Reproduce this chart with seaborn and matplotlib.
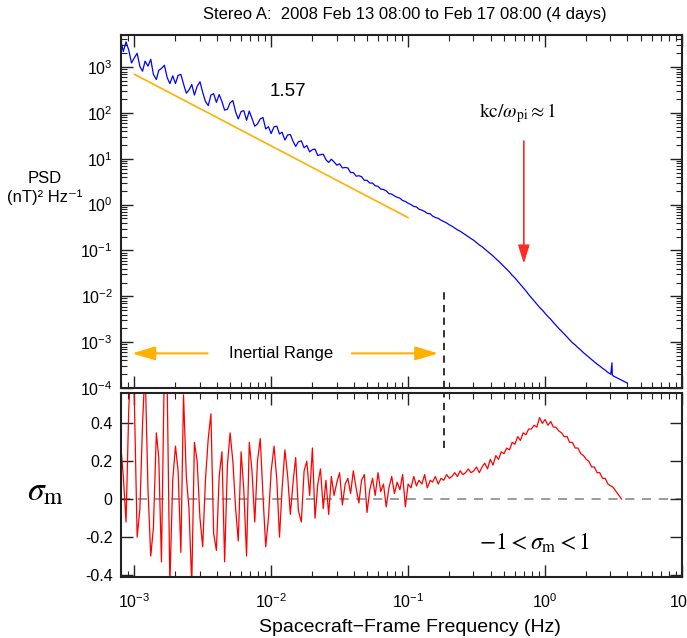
import numpy as np
import matplotlib
matplotlib.use('Agg')
import matplotlib.pyplot as plt
from matplotlib.ticker import LogLocator, NullFormatter, NullLocator
import seaborn as sns

# ---- data ----
# frequency grid (Hz), shared by both panels
freq = [
    7.94e-4, 8.32e-4, 8.71e-4, 9.12e-4, 9.55e-4,
    1.00e-3, 1.05e-3, 1.10e-3, 1.15e-3, 1.20e-3, 1.26e-3, 1.32e-3, 1.38e-3, 1.45e-3, 1.51e-3,
    1.58e-3, 1.66e-3, 1.74e-3, 1.82e-3, 1.91e-3, 2.00e-3, 2.09e-3, 2.19e-3, 2.29e-3, 2.40e-3,
    2.51e-3, 2.63e-3, 2.75e-3, 2.88e-3, 3.02e-3, 3.16e-3, 3.31e-3, 3.47e-3, 3.63e-3, 3.80e-3,
    3.98e-3, 4.17e-3, 4.37e-3, 4.57e-3, 4.79e-3, 5.01e-3, 5.25e-3, 5.50e-3, 5.75e-3, 6.03e-3,
    6.31e-3, 6.61e-3, 6.92e-3, 7.24e-3, 7.59e-3, 7.94e-3, 8.32e-3, 8.71e-3, 9.12e-3, 9.55e-3,
    1.00e-2, 1.05e-2, 1.10e-2, 1.15e-2, 1.20e-2, 1.26e-2, 1.32e-2, 1.38e-2, 1.45e-2, 1.51e-2,
    1.58e-2, 1.66e-2, 1.74e-2, 1.82e-2, 1.91e-2, 2.00e-2, 2.09e-2, 2.19e-2, 2.29e-2, 2.40e-2,
    2.51e-2, 2.63e-2, 2.75e-2, 2.88e-2, 3.02e-2, 3.16e-2, 3.31e-2, 3.47e-2, 3.63e-2, 3.80e-2,
    3.98e-2, 4.17e-2, 4.37e-2, 4.57e-2, 4.79e-2, 5.01e-2, 5.25e-2, 5.50e-2, 5.75e-2, 6.03e-2,
    6.31e-2, 6.61e-2, 6.92e-2, 7.24e-2, 7.59e-2, 7.94e-2, 8.32e-2, 8.71e-2, 9.12e-2, 9.55e-2,
    0.100, 0.105, 0.110, 0.115, 0.120, 0.126, 0.132, 0.138, 0.145, 0.151,
    0.158, 0.166, 0.174, 0.182, 0.191, 0.200, 0.209, 0.219, 0.229, 0.240,
    0.251, 0.263, 0.275, 0.288, 0.302, 0.316, 0.331, 0.347, 0.363, 0.380,
    0.398, 0.417, 0.437, 0.457, 0.479, 0.501, 0.525, 0.550, 0.575, 0.603,
    0.631, 0.661, 0.692, 0.724, 0.759, 0.794, 0.832, 0.871, 0.912, 0.955,
    1.00, 1.05, 1.10, 1.15, 1.20, 1.26, 1.32, 1.38, 1.45, 1.51,
    1.58, 1.66, 1.74, 1.82, 1.91, 2.00, 2.09, 2.19, 2.29, 2.40,
    2.51, 2.63, 2.75, 2.88, 3.02, 3.08, 3.10, 3.16, 3.31, 3.47,
    3.63, 3.80, 3.98,
]

# log10 of the magnetic PSD, (nT)^2 / Hz
psd_log10 = [
    3.60, 3.34, 3.55, 3.37, 3.09, 3.20, 3.30, 3.01, 2.91, 3.13,
    3.02, 3.17, 2.84, 2.73, 2.93, 2.97, 3.04, 2.77, 2.64, 2.81,
    2.64, 2.82, 2.84, 2.63, 2.43, 2.50, 2.62, 2.39, 2.58, 2.68,
    2.45, 2.25, 2.16, 2.39, 2.42, 2.23, 2.40, 2.25, 2.06, 2.08,
    2.22, 2.27, 2.02, 1.87, 2.03, 2.05, 1.84, 2.04, 1.88, 1.71,
    1.76, 1.87, 1.90, 1.65, 1.70, 1.55, 1.70, 1.71, 1.54, 1.58,
    1.41, 1.52, 1.53, 1.37, 1.27, 1.37, 1.39, 1.24, 1.29, 1.15,
    1.20, 1.21, 1.07, 1.09, 1.10, 0.98, 0.92, 0.99, 0.93, 0.86,
    0.89, 0.80, 0.81, 0.80, 0.70, 0.70, 0.62, 0.63, 0.61, 0.53,
    0.53, 0.47, 0.47, 0.41, 0.40, 0.34, 0.33, 0.30, 0.24, 0.23,
    0.19, 0.16, 0.14, 0.09, 0.07, 0.03, 0.00, -0.04, -0.05, -0.10,
    -0.12, -0.15, -0.19, -0.20, -0.25, -0.28, -0.30, -0.34, -0.37, -0.40,
    -0.44, -0.47, -0.51, -0.55, -0.58, -0.62, -0.66, -0.70, -0.74, -0.78,
    -0.83, -0.88, -0.92, -0.97, -1.02, -1.07, -1.12, -1.18, -1.23, -1.29,
    -1.35, -1.41, -1.47, -1.54, -1.60, -1.67, -1.74, -1.81, -1.88, -1.96,
    -2.03, -2.10, -2.17, -2.24, -2.30, -2.37, -2.44, -2.50, -2.57, -2.63,
    -2.70, -2.76, -2.82, -2.89, -2.95, -3.01, -3.06, -3.12, -3.17, -3.23,
    -3.28, -3.33, -3.38, -3.43, -3.48, -3.52, -3.57, -3.61, -3.66, -3.70,
    -3.45, -3.72,
    -3.74, -3.77, -3.80, -3.83, -3.86, -3.89,
]

# normalized magnetic helicity (defined up to 3.63 Hz)
sigma_m = [
    0.30, 0.12, -0.12, 0.48, 0.75, 0.55, -0.20, -0.05, 0.40, 0.70,
    0.05, -0.30, -0.15, 0.35, 0.22, -0.33, 0.72, 0.60, -0.45, 0.10,
    0.28, 0.15, -0.28, 0.55, 0.12, -0.05, -0.45, 0.30, 0.20, -0.10,
    -0.25, 0.10, 0.32, 0.45, -0.18, -0.27, 0.12, 0.25, -0.33, 0.18,
    0.35, 0.20, -0.05, -0.22, 0.25, 0.05, -0.30, 0.30, 0.15, -0.12,
    0.20, 0.32, 0.02, -0.25, -0.10, 0.15, 0.28, 0.10, -0.20, 0.05,
    0.26, 0.12, -0.08, 0.10, 0.22, -0.06, -0.12, 0.15, 0.20, 0.02,
    0.27, -0.10, 0.08, 0.16, -0.05, 0.10, -0.08, 0.12, 0.02, 0.09,
    0.14, -0.03, 0.08, 0.11, 0.03, 0.15, 0.06, -0.02, 0.10, 0.13,
    -0.07, 0.05, 0.11, 0.02, 0.14, 0.04, 0.08, -0.04, 0.06, 0.12,
    0.03, 0.09, 0.05, 0.13, -0.04, 0.08, 0.06, 0.12, 0.07, 0.10,
    0.08, 0.13, 0.06, 0.10, 0.09, 0.12, 0.08, 0.11, 0.10, 0.13,
    0.11, 0.12, 0.14, 0.12, 0.15, 0.13, 0.14, 0.16, 0.14, 0.15,
    0.17, 0.14, 0.17, 0.19, 0.16, 0.21, 0.18, 0.23, 0.21, 0.25,
    0.24, 0.27, 0.26, 0.30, 0.29, 0.33, 0.31, 0.35, 0.34, 0.37,
    0.37, 0.39, 0.38, 0.43, 0.40, 0.42, 0.39, 0.41, 0.38, 0.38,
    0.36, 0.35, 0.33, 0.33, 0.30, 0.30, 0.27, 0.27, 0.24, 0.23,
    0.21, 0.20, 0.17, 0.17, 0.14, 0.14, 0.11, 0.11, 0.08, 0.07,
    0.068, 0.066,
    0.06, 0.04, 0.02, 0.00,
]

# f^-1.57 reference fit (end points)
fit_freq = [1.0e-3, 1.0e-1]
fit_psd = [700.0, 0.52]

# annotation anchors
break_freq = 0.182          # dashed line at the end of the inertial range
break_psd_top = 1.6e-2
break_sigma_low = 0.27
kc_freq = 0.70              # kc/omega_pi ~ 1
kc_arrow = (28.0, 0.045)
inertial_psd = 5.7e-4
inertial_ends = (9.2e-4, 0.174)
inertial_text_gap = (3.6e-3, 3.7e-2)

psd = 10 ** np.array(psd_log10)

# ---- style ----
sns.set_theme(style='ticks')
plt.rcParams['font.family'] = ['Liberation Sans', 'DejaVu Sans']
plt.rcParams['axes.linewidth'] = 1.5
plt.rcParams['axes.edgecolor'] = '#222222'
plt.rcParams['text.color'] = 'black'
plt.rcParams['xtick.color'] = '#222222'
plt.rcParams['ytick.color'] = '#222222'
plt.rcParams['xtick.labelcolor'] = 'black'
plt.rcParams['ytick.labelcolor'] = 'black'

blue = '#0000ff'
red = '#ff0000'
orange = '#ffb000'

fig = plt.figure(figsize=(6.87, 6.38), dpi=100)
ax1 = fig.add_axes([0.1761, 0.3918, 0.8166, 0.5533])
ax2 = fig.add_axes([0.1761, 0.0956, 0.8166, 0.2884])

for ax in (ax1, ax2):
    ax.set_xscale('log')
ax1.set_yscale('log')

# top panel: PSD
sns.lineplot(x=freq, y=psd, ax=ax1, color=blue, lw=0.9, estimator=None, sort=False)
sns.lineplot(x=fit_freq, y=fit_psd, ax=ax1, color=orange, lw=1.2, estimator=None)

ax1.vlines(break_freq, 1e-4, break_psd_top, colors='#222222', lw=1.3, linestyles=(0, (4, 3)))
ax1.annotate('', xy=(kc_freq, kc_arrow[1]), xytext=(kc_freq, kc_arrow[0]),
             arrowprops=dict(arrowstyle='-|>,head_length=0.8,head_width=0.25',
                             mutation_scale=14, color='#ff2a2a', lw=1.2))
ax1.text(kc_freq * 0.9, 100, r'$\mathrm{kc}/\omega_{\mathrm{pi}} \approx 1$',
         ha='center', va='center', fontsize=14, math_fontfamily='stix')
ax1.text(0.0132, 290, '1.57', ha='center', va='center', fontsize=13.5)

ax1.text(0.0119, inertial_psd, 'Inertial Range', ha='center', va='center', fontsize=12)
for tail, tip in ((inertial_text_gap[0], inertial_ends[0]), (inertial_text_gap[1], inertial_ends[1])):
    ax1.annotate('', xy=(tip, inertial_psd), xytext=(tail, inertial_psd),
                 arrowprops=dict(arrowstyle='-|>,head_length=1.0,head_width=0.3',
                                 mutation_scale=14, color=orange, lw=1.5))

ax1.set_xlim(8e-4, 10)
ax1.set_ylim(1e-4, 5e3)
ax1.yaxis.set_major_locator(LogLocator(base=10, numticks=20))
ax1.yaxis.set_minor_locator(LogLocator(base=10, subs=np.arange(2, 10), numticks=100))
ax1.yaxis.set_minor_formatter(NullFormatter())
ax1.xaxis.set_major_formatter(NullFormatter())

# bottom panel: sigma_m
sns.lineplot(x=freq[:len(sigma_m)], y=sigma_m, ax=ax2, color=red, lw=0.9, estimator=None, sort=False)
ax2.axhline(0, color='#808080', lw=1.1, dashes=(6, 5), zorder=0)
ax2.vlines(break_freq, break_sigma_low, 0.56, colors='#222222', lw=1.3, linestyles=(0, (4, 3)))
ax2.text(0.84, -0.235, r'$-1 < \sigma_{\mathrm{m}} < 1$', ha='center', va='center',
         fontsize=17, math_fontfamily='stix')

ax2.set_xlim(8e-4, 10)
ax2.set_ylim(-0.41, 0.56)
ax2.set_yticks([0.4, 0.2, 0.0, -0.2, -0.4])
ax2.set_yticklabels(['0.4', '0.2', '0', '-0.2', '-0.4'])
ax2.yaxis.set_minor_locator(NullLocator())

for ax in (ax1, ax2):
    ax.xaxis.set_major_locator(LogLocator(base=10, numticks=20))
    ax.xaxis.set_minor_locator(LogLocator(base=10, subs=np.arange(2, 10), numticks=100))
    ax.xaxis.set_minor_formatter(NullFormatter())
    ax.tick_params(which='both', direction='in', top=True, right=True, labelsize=11.5)
    ax.tick_params(which='major', length=8.5, width=1.0)
    ax.tick_params(which='minor', length=4.5, width=0.8)
    ax.tick_params(axis='x', pad=11)
    ax.tick_params(axis='y', pad=6)
    ax.set_xlabel('')
    ax.set_ylabel('')

# labels
fig.text(405 / 687, 1 - 14 / 638, 'Stereo A:  2008 Feb 13 08:00 to Feb 17 08:00 (4 days)',
         ha='center', va='center', fontsize=12)
fig.text(410 / 687, 1 - 627 / 638, 'Spacecraft\u2212Frame Frequency (Hz)',
         ha='center', va='center', fontsize=14)
fig.text(45 / 687, 1 - 188 / 638, 'PSD\n(nT)\u00b2 Hz\u207b\u00b9', ha='center', va='center',
         fontsize=12, linespacing=1.3)
fig.text(45 / 687, 1 - 492 / 638, r'$\sigma_{\mathrm{m}}$', ha='center', va='center',
         fontsize=24, math_fontfamily='stix')

fig.savefig('out.png', dpi=100)
